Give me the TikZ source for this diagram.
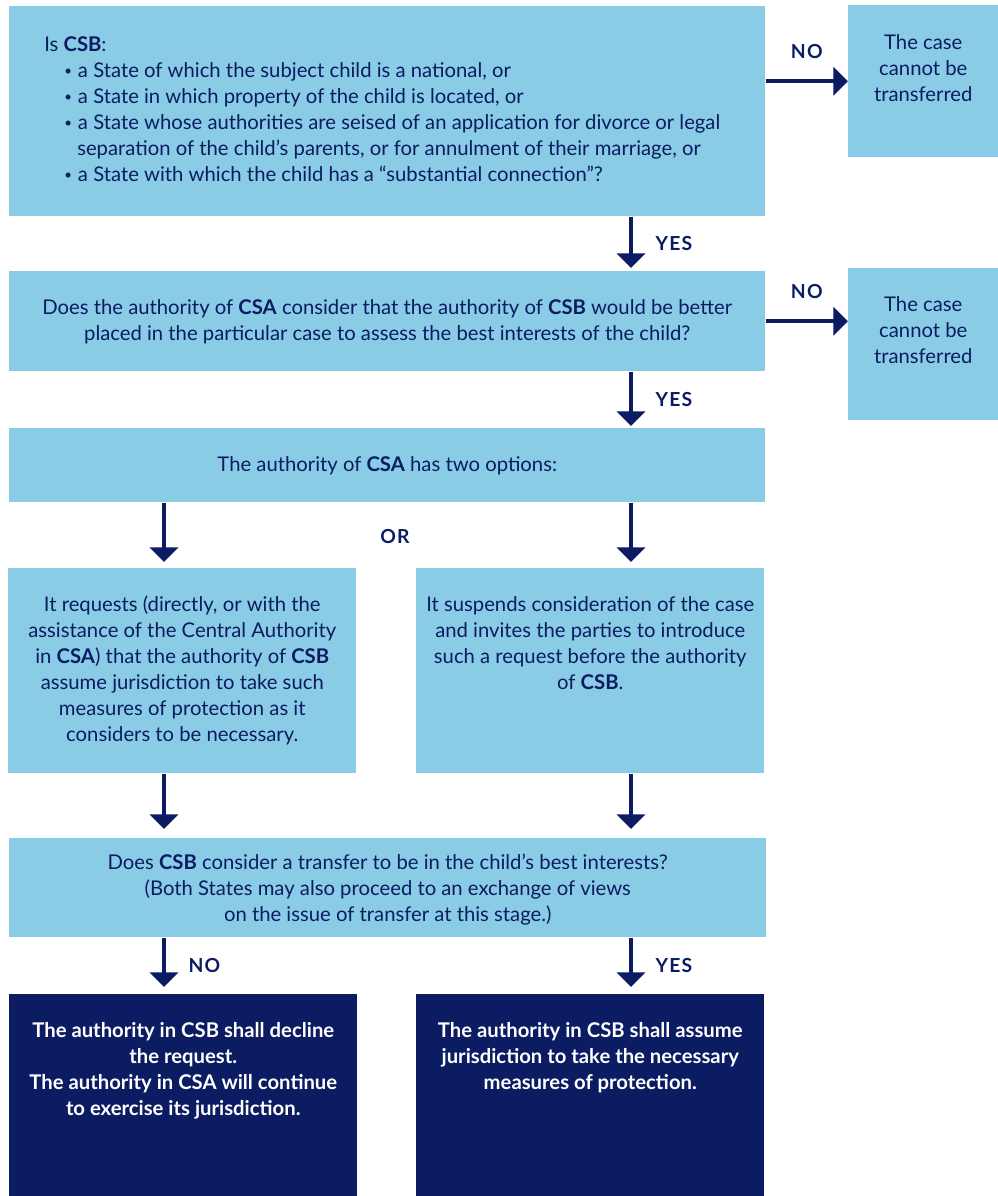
\documentclass[tikz,border=0pt]{standalone}
\usepackage{fontspec}
\setmainfont{Lato}
\usepackage{tikz}
\usetikzlibrary{arrows.meta,positioning}

\definecolor{paleblue}{RGB}{138,203,229}
\definecolor{navy}{RGB}{11,28,98}

\newlength{\pxu}\setlength{\pxu}{0.75pt}
% box text: [top pad]{alignment}{width}{height}{text}
\newcommand{\boxtext}[5][28]{\begin{minipage}[t][#4\pxu][t]{#3\pxu}#2\vspace*{#1\pxu}#5\end{minipage}}
\newcommand{\bul}{\hspace*{20\pxu}\raisebox{0.15ex}{\fontsize{10}{10}\selectfont\textbullet}\hspace{6\pxu}}

\begin{document}
\begin{tikzpicture}[x=0.75pt,y=-0.75pt,
  qbox/.style={fill=paleblue, text=navy, inner ysep=0pt, inner xsep=7.5pt, anchor=north west,
    font=\fontsize{15.2}{19.5}\selectfont},
  endbox/.style={qbox, fill=navy, text=white, font=\bfseries\fontsize{15.2}{19.5}\selectfont},
  lbl/.style={text=navy, inner sep=0pt, font=\bfseries\fontsize{14.5}{17}\selectfont\addfontfeature{LetterSpace=6}},
  flow/.style={draw=navy, line width=3pt, -{Triangle[width=21pt,length=11pt]}}]
\useasboundingbox (0,0) rectangle (998,1196);
% nodes
\node[qbox, inner xsep=26.25pt] (q1) at (9,6) {\boxtext[30]{\raggedright}{686}{210}{%
  Is \textbf{CSB}:\\
  \bul a State of which the subject child is a national, or\\
  \bul a State in which property of the child is located, or\\
  \bul a State whose authorities are seised of an application for divorce or legal\\
  \hspace*{33\pxu}separation of the child's parents, or for annulment of their marriage, or\\
  \bul a State with which the child has a ``substantial connection''?}};%
\node[qbox] (n1) at (848,5) {\boxtext[29]{\centering}{130}{152}{The case\\ cannot be\\ transferred}};%
\node[qbox] (q2) at (9,271) {\boxtext{\centering}{736}{100}{Does the authority of \textbf{CSA} consider that the authority of \textbf{CSB} would be better\\
  placed in the particular case to assess the best interests of the child?}};%
\node[qbox] (n2) at (848,268) {\boxtext{\centering}{130}{152}{The case\\ cannot be\\ transferred}};%
\node[qbox] (q3) at (9,428) {\boxtext{\centering}{736}{74}{The authority of \textbf{CSA} has two options:}};%
\node[lbl] (or) at (395,537) {OR};%
\node[qbox] (o1) at (8,568) {\boxtext{\centering}{328}{205}{It requests (directly, or with the\\ assistance of the Central Authority\\
  in \textbf{CSA}) that the authority of \textbf{CSB}\\ assume jurisdiction to take such\\ measures of protection as it\\ considers to be necessary.}};%
\node[qbox] (o2) at (416,568) {\boxtext{\centering}{328}{205}{It suspends consideration of the case\\ and invites the parties to introduce\\
  such a request before the authority\\ of \textbf{CSB}.}};%
\node[qbox] (q5) at (9,838) {\boxtext[16]{\centering}{737}{99}{Does \textbf{CSB} consider a transfer to be in the child's best interests?\\
  (Both States may also proceed to an exchange of views\\ on the issue of transfer at this stage.)}};%
\node[endbox] (r1) at (9,994) {\boxtext{\centering}{328}{202}{The authority in CSB shall decline\\ the request.\\
  The authority in CSA will continue\\ to exercise its jurisdiction.}};%
\node[endbox] (r2) at (416,994) {\boxtext{\centering}{328}{202}{The authority in CSB shall assume\\ jurisdiction to take the necessary\\ measures of protection.}};%
\coordinate (colL) at (164,0);
\coordinate (colR) at (631,0);

% edges
\draw[flow] (q1.east |- n1.west) -- node[lbl, above=15.75pt] {NO} (n1.west);
\draw[flow] (q2.east) -- node[lbl, above=15.75pt] {NO} (q2.east -| n2.west);
\draw[flow, shorten >=2.25pt] (q1.south -| colR) -- node[lbl, right=17pt] {YES} (q2.north -| colR);
\draw[flow, shorten >=1.5pt] (q2.south -| colR) -- node[lbl, right=17pt] {YES} (q3.north -| colR);

\draw[flow, shorten >=4.5pt] (q3.south -| colL) -- (o1.north -| colL);
\draw[flow, shorten >=4.5pt] (q3.south -| colR) -- (o2.north -| colR);
\draw[flow, shorten >=6.75pt] (o1.south -| colL) -- (q5.north -| colL);
\draw[flow, shorten >=6.75pt] (o2.south -| colR) -- (q5.north -| colR);

\draw[flow, shorten >=5.25pt] (q5.south -| colL) -- node[lbl, right=17pt] {NO} (r1.north -| colL);
\draw[flow, shorten >=5.25pt] (q5.south -| colR) -- node[lbl, right=17pt] {YES} (r2.north -| colR);
\end{tikzpicture}
\end{document}
